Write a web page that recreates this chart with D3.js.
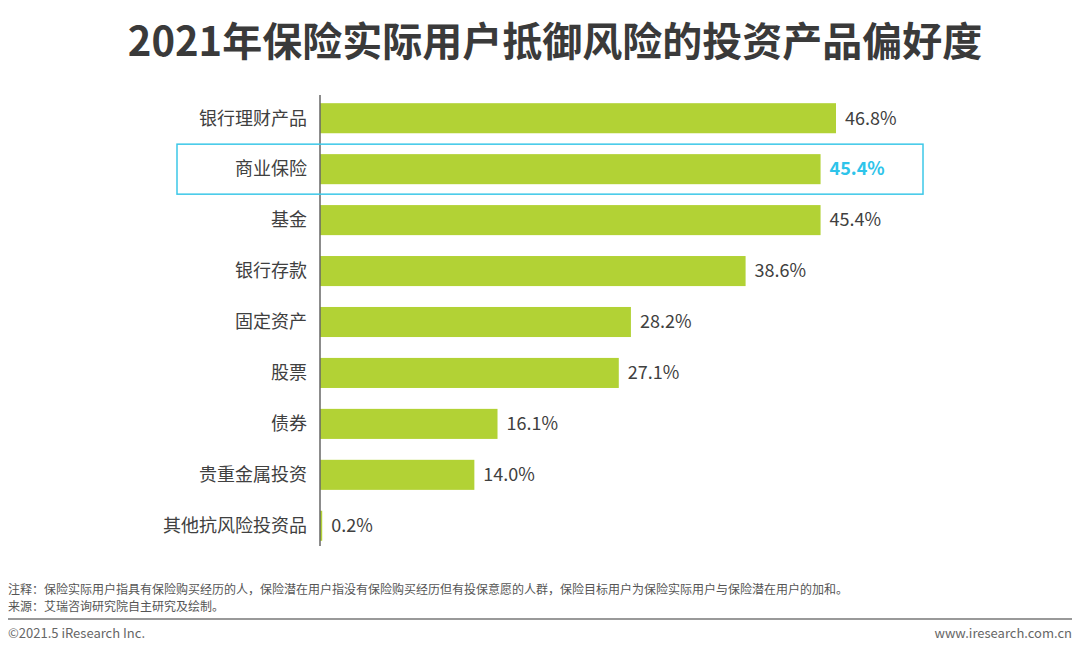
<!DOCTYPE html>
<html><head><meta charset="utf-8">
<script src="https://cdn.jsdelivr.net/npm/d3@7"></script>
<style>body{margin:0;background:#fff}svg{display:block}</style>
</head><body><svg id="c" width="1080" height="653"></svg>
<script>
const categories=["银行理财产品","商业保险","基金","银行存款","固定资产","股票","债券","贵重金属投资","其他抗风险投资品"];
const values=[46.8,45.4,45.4,38.6,28.2,27.1,16.1,14.0,0.2];
const highlight="商业保险";
const font="'Noto Sans CJK SC','Noto Sans',sans-serif";
const svg=d3.select("#c");
svg.append("text").attr("x",555).attr("y",56).attr("text-anchor","middle")
 .attr("font-family",font).attr("font-weight",700).attr("font-size",40).attr("fill","#3a3a3a")
 .text("2021年保险实际用户抵御风险的投资产品偏好度");
const x=d3.scaleLinear().domain([0,46.8]).range([320,836]);
const y=d3.scaleBand().domain(categories).range([93,551]).paddingInner(0.41).paddingOuter(0.2);
const g=svg.append("g");
g.selectAll("rect.bar").data(categories).join("rect").attr("class","bar")
 .attr("x",x(0)).attr("y",d=>y(d)).attr("height",y.bandwidth())
 .attr("width",(d,i)=>x(values[i])-x(0)).attr("fill","#b2d235");
g.selectAll("text.cat").data(categories).join("text").attr("class","cat")
 .attr("x",307).attr("y",d=>y(d)+y.bandwidth()/2).attr("dy","0.35em").attr("text-anchor","end")
 .attr("font-family",font).attr("font-size",18).attr("fill","#404040").text(d=>d);
g.selectAll("text.val").data(categories).join("text").attr("class","val")
 .attr("x",(d,i)=>x(values[i])+9).attr("y",d=>y(d)+y.bandwidth()/2).attr("dy","0.35em")
 .attr("font-family",font).attr("font-size",18)
 .attr("font-weight",d=>d===highlight?700:400)
 .attr("fill",d=>d===highlight?"#2ec4ea":"#404040")
 .text((d,i)=>values[i].toFixed(1)+"%");
svg.append("line").attr("x1",320).attr("x2",320).attr("y1",95).attr("y2",546).attr("stroke","#666").attr("stroke-width",1.5);
const hy=y(highlight)+y.bandwidth()/2;
svg.append("rect").attr("x",177).attr("y",hy-25).attr("width",746).attr("height",50)
 .attr("fill","none").attr("stroke","#3cc8e8").attr("stroke-width",1.5);
const ft=svg.append("g").attr("font-family",font).attr("fill","#555");
ft.append("text").attr("x",8).attr("y",594).attr("font-size",12).text("注释：保险实际用户指具有保险购买经历的人，保险潜在用户指没有保险购买经历但有投保意愿的人群，保险目标用户为保险实际用户与保险潜在用户的加和。");
ft.append("text").attr("x",8).attr("y",611).attr("font-size",12).text("来源：艾瑞咨询研究院自主研究及绘制。");
svg.append("line").attr("x1",8).attr("x2",1072).attr("y1",619).attr("y2",619).attr("stroke","#999").attr("stroke-width",2);
ft.append("text").attr("x",8).attr("y",638).attr("font-size",13).attr("fill","#666").text("©2021.5 iResearch Inc.");
ft.append("text").attr("x",1072).attr("y",638).attr("font-size",13).attr("fill","#666").attr("text-anchor","end").text("www.iresearch.com.cn");
</script></body></html>
